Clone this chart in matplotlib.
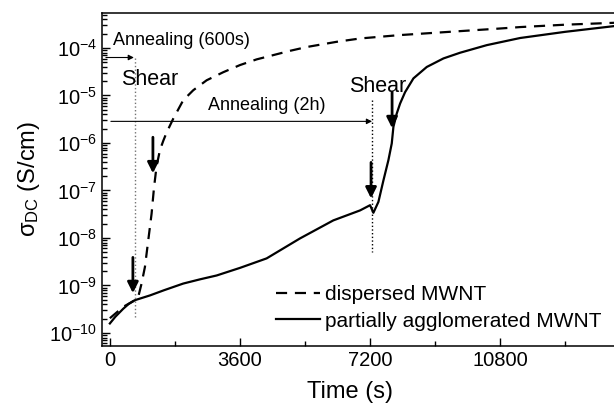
import numpy as np
import matplotlib
matplotlib.use('Agg')
import matplotlib.pyplot as plt
from matplotlib.ticker import FixedLocator, LogLocator

plt.rcParams['font.family'] = ['Liberation Sans', 'DejaVu Sans']
plt.rcParams['mathtext.fontset'] = 'custom'
plt.rcParams['mathtext.rm'] = 'Liberation Sans'
plt.rcParams['mathtext.it'] = 'Liberation Sans:italic'
plt.rcParams['axes.unicode_minus'] = False

# dispersed MWNT (dashed), time in s, log10 of conductivity
t_disp = [0, 370, 692, 785, 877, 970, 1062, 1154, 1220, 1290, 1385, 1480, 1570, 1753,
          2030, 2307, 2678, 3138, 3600, 4062, 4523, 4985, 5446, 6277, 6923, 8000,
          9600, 10800, 11354, 12600, 13950]
log_disp = [-9.69, -9.45, -9.31, -9.24, -8.96, -8.61, -8.05, -7.49, -6.95, -6.50, -6.15,
            -5.95, -5.78, -5.49, -5.10, -4.89, -4.68, -4.51, -4.36, -4.24, -4.15, -4.06,
            -3.98, -3.87, -3.80, -3.73, -3.65, -3.59, -3.56, -3.51, -3.47]

# partially agglomerated MWNT (solid)
t_agg = [0, 150, 370, 520, 692, 1108, 1500, 2030, 2500, 2954, 3600, 4338, 5260, 6183,
         6923, 7200, 7292, 7431, 7569, 7708, 7800, 7846, 7938, 8031, 8169, 8400, 8769,
         9231, 9692, 10431, 11354, 12600, 13950]
log_agg = [-9.80, -9.66, -9.49, -9.39, -9.31, -9.21, -9.10, -8.96, -8.87, -8.79, -8.63,
           -8.43, -8.01, -7.63, -7.42, -7.31, -7.47, -7.24, -6.79, -6.36, -6.01, -5.66,
           -5.38, -5.17, -4.93, -4.64, -4.40, -4.22, -4.10, -3.94, -3.79, -3.66, -3.54]

x_ticks = [0, 3600, 7200, 10800]
x_minor = [1800, 5400, 9000, 12600]

sigma_disp = 10.0 ** np.array(log_disp)
sigma_agg = 10.0 ** np.array(log_agg)

fig = plt.figure(figsize=(6.14, 4.12), dpi=100)
ax = fig.add_axes([0.166, 0.161, 0.834, 0.807])

ax.plot(t_disp, sigma_disp, 'k--', lw=1.6, dashes=(5, 3.5), label='dispersed MWNT')
ax.plot(t_agg, sigma_agg, 'k-', lw=1.6, label='partially agglomerated MWNT')

ax.set_yscale('log')
ax.set_xlim(-220, 13950)
ax.set_ylim(5.4e-11, 5.4e-4)

ax.xaxis.set_major_locator(FixedLocator(x_ticks))
ax.xaxis.set_minor_locator(FixedLocator(x_minor))
ax.yaxis.set_major_locator(LogLocator(base=10, numticks=20))
ax.yaxis.set_minor_locator(LogLocator(base=10, subs=np.arange(2, 10), numticks=20))
ax.tick_params(which='both', direction='in', top=False, right=False, labelsize=14.5)
ax.tick_params(which='major', length=6, width=1)
ax.tick_params(which='minor', length=3.5, width=1)
ax.spines['right'].set_visible(False)
for s in ['left', 'bottom', 'top']:
    ax.spines[s].set_linewidth(1.1)

ax.set_xlabel('Time (s)', fontsize=17, labelpad=6)
ax.xaxis.set_label_coords(0.484, -0.105)
ax.set_ylabel(r'σ$_{\mathrm{DC}}$ (S/cm)', fontsize=17, labelpad=5)

# annealing / shear annotations
ax.text(83, 1.14e-4, 'Annealing (600s)', fontsize=13, va='baseline')
ax.annotate('', xy=(665, 6.3e-5), xytext=(-110, 6.3e-5),
            arrowprops=dict(arrowstyle='-|>', lw=0.8, color='k', mutation_scale=8,
                            shrinkA=0, shrinkB=0))
ax.plot([690, 690], [6.3e-5, 2.1e-10], ls=':', color='0.45', lw=1)
ax.text(305, 1.64e-5, 'Shear', fontsize=15.5, va='baseline')

ax.text(2723, 5.05e-6, 'Annealing (2h)', fontsize=13, va='baseline')
ax.annotate('', xy=(7255, 2.85e-6), xytext=(28, 2.85e-6),
            arrowprops=dict(arrowstyle='-|>', lw=0.8, color='k', mutation_scale=8,
                            shrinkA=0, shrinkB=0))
ax.plot([7255, 7255], [7.9e-6, 5e-9], ls=':', color='k', lw=1)
ax.text(6618, 1.17e-5, 'Shear', fontsize=15.5, va='baseline')

# thick downward arrows
for xa, ytop, ybot in [(1191, 1.32e-6, 2.3e-7), (637, 3.9e-9, 6.9e-10),
                       (7227, 3.9e-7, 6.8e-8), (7809, 1.17e-5, 2.05e-6)]:
    ax.annotate('', xy=(xa, ybot), xytext=(xa, ytop),
                arrowprops=dict(arrowstyle='-|>', lw=2, color='k', mutation_scale=16,
                                shrinkA=0, shrinkB=0))

ax.legend(loc='lower right', bbox_to_anchor=(1.0, 0.008), frameon=False, fontsize=15,
          handlelength=2.1, handletextpad=0.25, labelspacing=0.35, borderaxespad=0.2)

fig.savefig('out.png', dpi=100)
